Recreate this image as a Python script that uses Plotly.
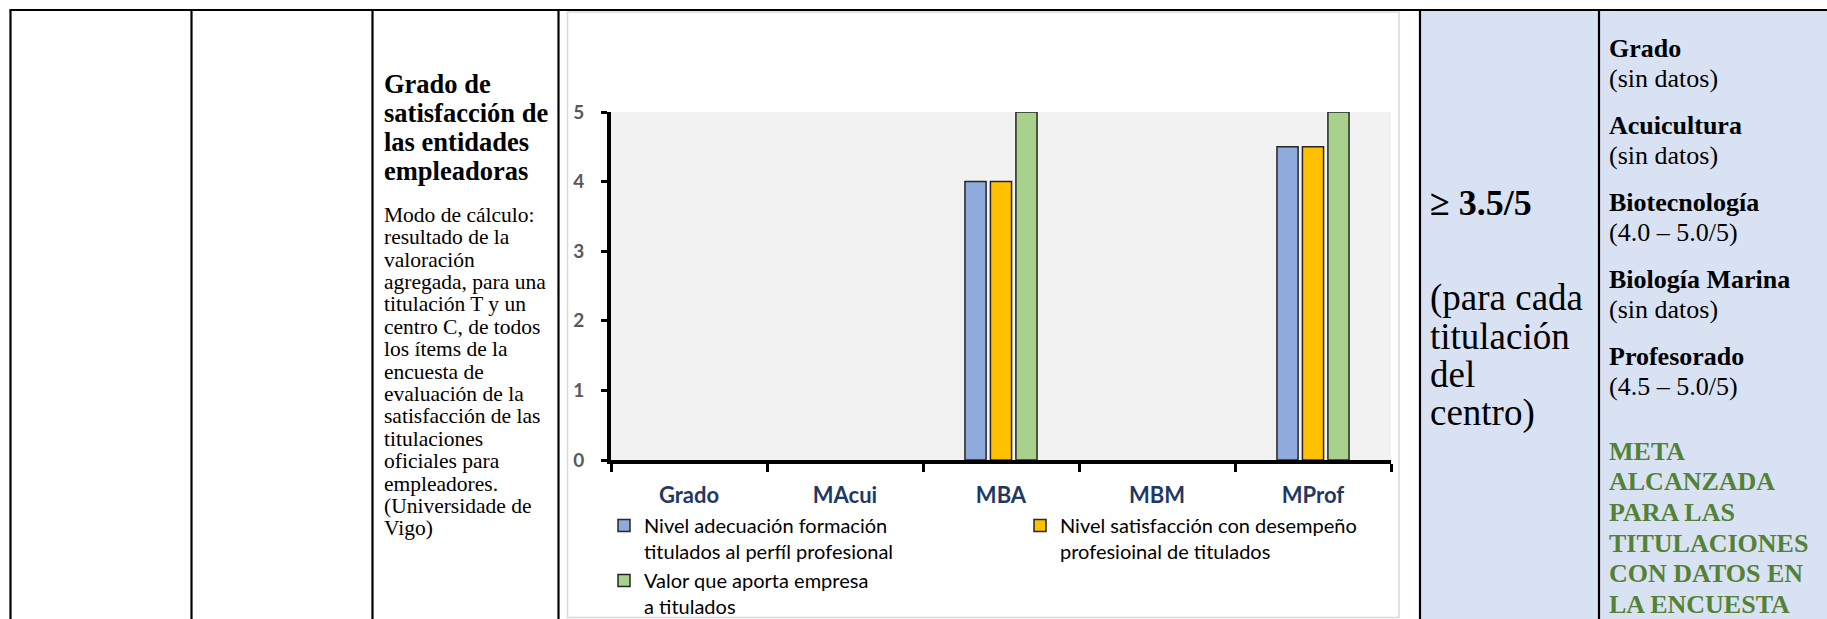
import plotly.graph_objects as go

W, H = 1827, 619

# ---------------- data ----------------
categories = ["Grado", "MAcui", "MBA", "MBM", "MProf"]
adecuacion = [None, None, 4.0, None, 4.5]
satisfaccion = [None, None, 4.0, None, 4.5]
valor_empresa = [None, None, 5.0, None, 5.0]
series_names = [
    "Nivel adecuación formación<br>titulados al perfíl profesional",
    "Nivel satisfacción con desempeño<br>profesioinal de titulados",
    "Valor que aporta empresa<br>a titulados",
]
series_colors = ["#8FAADC", "#FFC000", "#A9D18E"]
y_ticks = [0, 1, 2, 3, 4, 5]

title_lines = ["Grado de", "satisfacción de", "las entidades", "empleadoras"]
body_lines = [
    "Modo de cálculo:", "resultado de la", "valoración", "agregada, para una",
    "titulación T y un", "centro C, de todos", "los ítems de la", "encuesta de",
    "evaluación de la", "satisfacción de las", "titulaciones", "oficiales para",
    "empleadores.", "(Universidade de", "Vigo)",
]
meta_value = "≥ 3.5/5"
meta_lines = ["(para cada", "titulación", "del", "centro)"]
result_blocks = [
    ("Grado", "(sin datos)"),
    ("Acuicultura", "(sin datos)"),
    ("Biotecnología", "(4.0 – 5.0/5)"),
    ("Biología Marina", "(sin datos)"),
    ("Profesorado", "(4.5 – 5.0/5)"),
]
conclusion_lines = ["META", "ALCANZADA", "PARA LAS", "TITULACIONES", "CON DATOS EN", "LA ENCUESTA"]


def px(x):
    return x / W


def py(y):
    return 1 - y / H


fig = go.Figure()

legend_of = ["legend", "legend2", "legend"]
for vals, name, color, lg in zip([adecuacion, satisfaccion, valor_empresa], series_names, series_colors, legend_of):
    fig.add_trace(go.Bar(
        x=categories, y=vals, name=name, legend=lg,
        marker=dict(color=color, line=dict(color="#262626", width=1.5)),
        hoverinfo="skip",
    ))

SERIF = "Liberation Serif, Times New Roman, serif"
SANS = "Lato, Carlito, Calibri, sans-serif"


def add_text(text, x, baseline, size, bold=False, color="black"):
    fig.add_annotation(
        text=text, xref="paper", yref="paper",
        x=px(x), y=py(baseline - 0.3375 * size),
        xanchor="left", yanchor="middle", showarrow=False, borderpad=0,
        font=dict(family=SERIF, size=size, color=color, weight="bold" if bold else "normal"),
    )


# left cell text
for i, t in enumerate(title_lines):
    add_text(t, 383, 93 + 29.0 * i, 26.5, bold=True)
for i, t in enumerate(body_lines):
    add_text(t, 383, 222 + 22.4 * i, 21.5)

# middle (blue) cell
add_text(meta_value, 1429, 215, 36, bold=True)
for i, t in enumerate(meta_lines):
    add_text(t, 1429, 310 + 38.5 * i, 37)

# right (blue) cell
for i, (head, val) in enumerate(result_blocks):
    b = 57 + 77 * i
    add_text(head, 1608, b, 26, bold=True)
    add_text(val, 1608, b + 30.5, 26)
for i, t in enumerate(conclusion_lines):
    add_text(t, 1608, 460 + 30.6 * i, 26, bold=True, color="#538135")

# table structure
shapes = []
shapes.append(dict(type="rect", xref="paper", yref="paper", x0=px(1420), x1=px(W + 2), y0=py(H + 2), y1=py(10),
                   fillcolor="#D9E2F3", line=dict(width=0), layer="below"))
shapes.append(dict(type="rect", xref="paper", yref="paper", x0=px(567.5), x1=px(1399), y0=py(617.5), y1=py(12),
                   line=dict(color="#D9D9D9", width=1.5), layer="below"))
shapes.append(dict(type="line", xref="paper", yref="paper", x0=px(9.5), x1=px(W + 2), y0=py(10), y1=py(10),
                   line=dict(color="black", width=2.2)))
for xv in [10.5, 191.5, 372.5, 558.5, 1420, 1599]:
    shapes.append(dict(type="line", xref="paper", yref="paper", x0=px(xv), x1=px(xv), y0=py(10), y1=py(H + 2),
                       line=dict(color="black", width=2.2)))

fig.update_layout(
    width=W, height=H,
    margin=dict(l=0, r=0, t=0, b=0, pad=0, autoexpand=False),
    paper_bgcolor="white", plot_bgcolor="#F2F2F2",
    barmode="group", bargap=0.51, bargroupgap=0.17,
    shapes=shapes,
    showlegend=True,
    legend=dict(x=px(604), y=py(506), xanchor="left", yanchor="top", orientation="v",
                font=dict(family=SANS, size=20, color="black"), bgcolor="rgba(0,0,0,0)",
                valign="top", traceorder="normal", tracegroupgap=0),
    legend2=dict(x=px(1020), y=py(506), xanchor="left", yanchor="top", orientation="v",
                 font=dict(family=SANS, size=20, color="black"), bgcolor="rgba(0,0,0,0)",
                 valign="top", traceorder="normal", tracegroupgap=0),
    xaxis=dict(domain=[px(611), px(1391)], type="category", categoryorder="array", categoryarray=categories,
               showline=True, linecolor="black", linewidth=4, mirror=False,
               ticks="outside", tickson="boundaries", ticklen=8, tickwidth=3, tickcolor="black",
               tickfont=dict(family=SANS, size=22, color="#1F3864", weight="bold"),
               ticklabelstandoff=13, showgrid=False, zeroline=False, fixedrange=True),
    yaxis=dict(domain=[py(460), py(112)], range=[0, 5], tickvals=y_ticks,
               showline=True, linecolor="black", linewidth=4,
               ticks="outside", ticklen=6, tickwidth=3, tickcolor="black",
               tickfont=dict(family=SANS, size=19, color="#595959", weight="bold"),
               ticklabelstandoff=13, showgrid=False, zeroline=False, fixedrange=True),
)

fig.write_html("out.html", config={"displayModeBar": False},
               post_script="document.body.style.margin='0';document.body.style.overflow='hidden';")
